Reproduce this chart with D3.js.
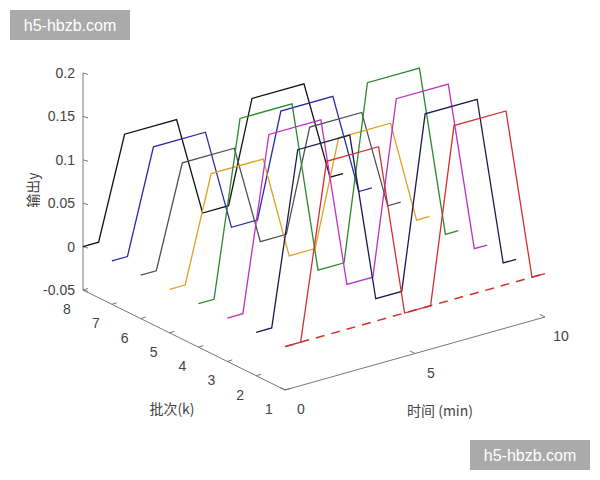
<!DOCTYPE html>
<html><head><meta charset="utf-8">
<script src="https://cdn.jsdelivr.net/npm/d3@7"></script>
<style>body{margin:0;background:#fff}</style>
</head><body>
<svg id="c" width="600" height="480"></svg>
<script>
// batch numbers, colours, and read-off waveform amplitudes
const batches = [8, 7, 6, 5, 4, 3, 2, 1];
const colors = ["#111", "#2a2aa8", "#505050", "#e0a020", "#2a8a2a", "#c030c0", "#1a1a50", "#d03030"];
const amps = [0.116, 0.118, 0.116, 0.12, 0.2, 0.198, 0.197, 0.2];
// time breakpoints and normalised shape of each waveform
const times = [0, 0.6, 1.6, 3.6, 4.6, 5.6, 6.5, 8.5, 9.5, 10];
const shape = [0, 0, 1, 1, 0, 0, 1, 1, 0, 0];
const yTicks = [-0.05, 0, 0.05, 0.1, 0.15, 0.2];
const kTicks = [1, 2, 3, 4, 5, 6, 7, 8];
const tTicks = [0, 5, 10];

const svg = d3.select("#c");
const font = "Liberation Sans, Arial, sans-serif";

// oblique projection: each data axis contributes a screen offset
const tx = d3.scaleLinear().domain([0, 10]).range([0, 260]);
const ty = d3.scaleLinear().domain([0, 10]).range([0, -73]);
const kx = d3.scaleLinear().domain([1, 8]).range([0, -202]);
const ky = d3.scaleLinear().domain([1, 8]).range([0, -100]);
const yy = d3.scaleLinear().domain([-0.05, 0.2]).range([0, -217]);
const ox = 285, oy = 390;
const P = (t, k, y) => [ox + tx(t) + kx(k), oy + ty(t) + ky(k) + yy(y)];

const axisCol = "#777";
const txtCol = "#444";
// y axis
svg.append("line").attr("x1", P(0, 8, -0.05)[0]).attr("y1", P(0, 8, -0.05)[1])
  .attr("x2", P(0, 8, 0.2)[0]).attr("y2", P(0, 8, 0.2)[1]).attr("stroke", axisCol);
yTicks.forEach(v => {
  const [x, y] = P(0, 8, v);
  svg.append("line").attr("x1", x).attr("y1", y).attr("x2", x + 5).attr("y2", y + 1.5).attr("stroke", axisCol);
  svg.append("text").attr("x", x - 8).attr("y", y + 5).attr("text-anchor", "end")
    .attr("font-family", font).attr("font-size", 14).attr("fill", txtCol).text(v);
});
// k axis
svg.append("line").attr("x1", P(0, 1, -0.05)[0]).attr("y1", P(0, 1, -0.05)[1])
  .attr("x2", P(0, 8, -0.05)[0]).attr("y2", P(0, 8, -0.05)[1]).attr("stroke", axisCol);
kTicks.forEach(k => {
  const [x, y] = P(0, k, -0.05);
  svg.append("line").attr("x1", x).attr("y1", y).attr("x2", x + 5).attr("y2", y - 1.5).attr("stroke", axisCol);
  svg.append("text").attr("x", x - 16).attr("y", y + 24).attr("text-anchor", "middle")
    .attr("font-family", font).attr("font-size", 14).attr("fill", txtCol).text(k);
});
// t axis
svg.append("line").attr("x1", P(0, 1, -0.05)[0]).attr("y1", P(0, 1, -0.05)[1])
  .attr("x2", P(10, 1, -0.05)[0]).attr("y2", P(10, 1, -0.05)[1]).attr("stroke", axisCol);
tTicks.forEach(t => {
  const [x, y] = P(t, 1, -0.05);
  svg.append("line").attr("x1", x).attr("y1", y).attr("x2", x - 5).attr("y2", y - 2.5).attr("stroke", axisCol);
  svg.append("text").attr("x", x + 16).attr("y", y + 24).attr("text-anchor", "middle")
    .attr("font-family", font).attr("font-size", 14).attr("fill", txtCol).text(t);
});

const line = d3.line();
// dashed reference at k=1
svg.append("path").attr("d", line([P(0, 1, 0), P(10, 1, 0)]))
  .attr("fill", "none").attr("stroke", "#d03030").attr("stroke-width", 1.5).attr("stroke-dasharray", "9,7");

batches.forEach((k, i) => {
  const pts = times.map((t, j) => P(t, k, shape[j] * amps[i]));
  svg.append("path").attr("d", line(pts)).attr("fill", "none")
    .attr("stroke", colors[i]).attr("stroke-width", 1.3);
});

svg.append("text").attr("transform", "translate(38,190) rotate(-90)").attr("text-anchor", "middle")
  .attr("font-family", "Noto Sans CJK SC").attr("font-size", 14).attr("fill", txtCol).text("输出y");
svg.append("text").attr("x", 172).attr("y", 414).attr("text-anchor", "middle")
  .attr("font-family", "Noto Sans CJK SC").attr("font-size", 14).attr("fill", txtCol).text("批次(k)");
svg.append("text").attr("x", 440).attr("y", 416).attr("text-anchor", "middle")
  .attr("font-family", "Noto Sans CJK SC").attr("font-size", 14).attr("fill", txtCol).text("时间 (min)");

// watermarks
[[10, 10], [470, 440]].forEach(([x, y]) => {
  svg.append("rect").attr("x", x).attr("y", y).attr("width", 120).attr("height", 30).attr("fill", "#aaa");
  svg.append("text").attr("x", x + 60).attr("y", y + 21).attr("text-anchor", "middle")
    .attr("font-family", font).attr("font-size", 16).attr("fill", "#fff").text("h5-hbzb.com");
});
</script>
</body></html>
